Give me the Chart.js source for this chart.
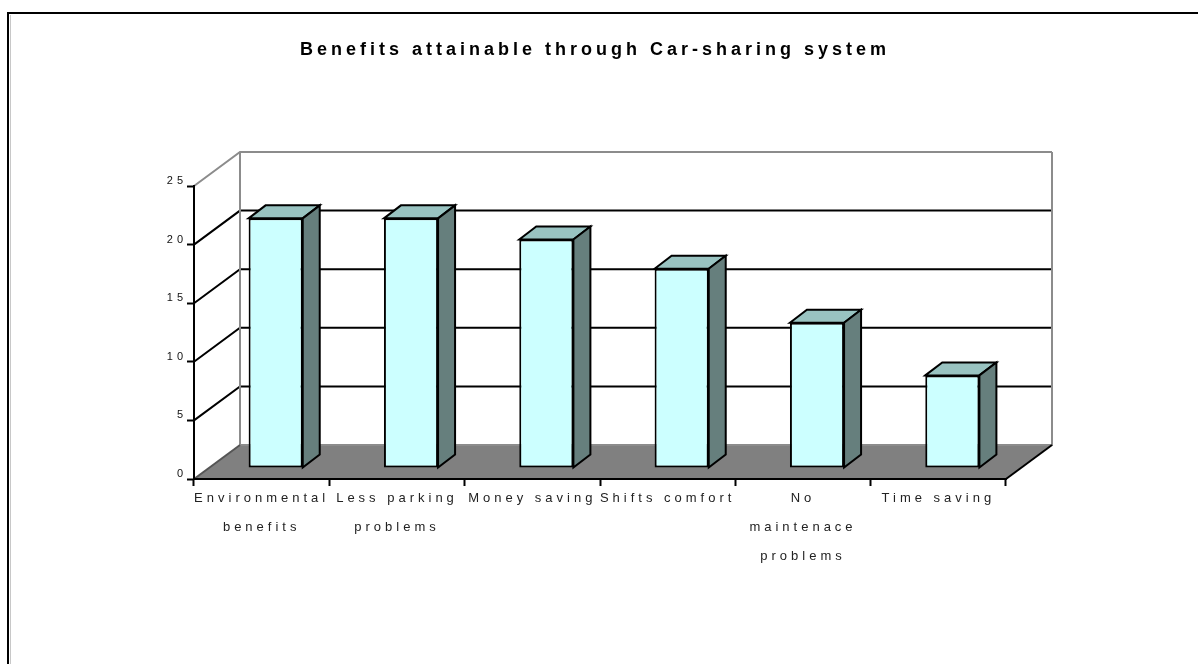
<!DOCTYPE html>
<html>
<head>
<meta charset="utf-8">
<title>Benefits attainable through Car-sharing system</title>
<script src="https://cdn.jsdelivr.net/npm/chart.js@4/dist/chart.umd.min.js"></script>
<style>
    html, body { margin: 0; padding: 0; background: #ffffff; }
    #area { position: relative; width: 1198px; height: 664px; }
</style>
</head>
<body>
<div id="area"><canvas id="graficoBeneficios" width="1198" height="664"></canvas></div>
<script>
// Dados do gráfico
var categorias = [
    ['Environmental', 'benefits'],
    ['Less parking', 'problems'],
    ['Money saving'],
    ['Shifts comfort'],
    ['No', 'maintenace', 'problems'],
    ['Time saving']
];
var valores = [21.3, 21.3, 19.5, 17.0, 12.4, 7.9];
var ticksY = [0, 5, 10, 15, 20, 25];

// Deslocamentos da perspectiva (parede do fundo, face frontal e profundidade das barras)
var parede = { dx: 46, dy: -34 };
var frenteBarra = { dx: 14, dy: -11 };
var fundoBarra = { dx: 17, dy: -13 };

var fonte = "Arial, 'Liberation Sans', sans-serif";

var efeito3d = {
    id: 'efeito3d',
    beforeDraw: function(chart) {
        var ctx = chart.ctx;
        var area = chart.chartArea;
        var escalaY = chart.scales.y;
        var L = area.left, R = area.right;
        var y0 = escalaY.getPixelForValue(0);
        var yTopo = escalaY.getPixelForValue(ticksY[ticksY.length - 1]);

        ctx.save();
        // moldura externa
        ctx.strokeStyle = '#000';
        ctx.lineWidth = 2;
        ctx.beginPath();
        ctx.moveTo(8, 700);
        ctx.lineTo(8, 13);
        ctx.lineTo(1250, 13);
        ctx.stroke();
        ctx.strokeStyle = '#c8c8c8';
        ctx.lineWidth = 1;
        ctx.beginPath();
        ctx.moveTo(10.5, 15);
        ctx.lineTo(10.5, 700);
        ctx.stroke();

        // piso cinza
        ctx.fillStyle = '#808080';
        ctx.beginPath();
        ctx.moveTo(L, y0);
        ctx.lineTo(R, y0);
        ctx.lineTo(R + parede.dx, y0 + parede.dy);
        ctx.lineTo(L + parede.dx, y0 + parede.dy);
        ctx.closePath();
        ctx.fill();

        // linhas de grade na parede lateral e no fundo
        ctx.lineWidth = 2;
        ticksY.forEach(function(v) {
            if (v === 0) return;
            var py = escalaY.getPixelForValue(v);
            ctx.strokeStyle = (py === yTopo) ? '#8c8c8c' : '#000';
            ctx.beginPath();
            ctx.moveTo(L, py);
            ctx.lineTo(L + parede.dx, py + parede.dy);
            ctx.lineTo(R + parede.dx, py + parede.dy);
            ctx.stroke();
        });

        // bordas da parede do fundo
        ctx.strokeStyle = '#8c8c8c';
        ctx.beginPath();
        ctx.moveTo(L + parede.dx, yTopo + parede.dy);
        ctx.lineTo(L + parede.dx, y0 + parede.dy);
        ctx.lineTo(R + parede.dx, y0 + parede.dy);
        ctx.lineTo(R + parede.dx, yTopo + parede.dy);
        ctx.stroke();
        ctx.strokeStyle = '#555';
        ctx.beginPath();
        ctx.moveTo(L, y0);
        ctx.lineTo(L + parede.dx, y0 + parede.dy);
        ctx.stroke();
        ctx.strokeStyle = '#000';
        ctx.beginPath();
        ctx.moveTo(R, y0);
        ctx.lineTo(R + parede.dx, y0 + parede.dy);
        ctx.stroke();
        ctx.restore();

        // textos espaçados
        ctx.letterSpacing = '4px';
    },
    beforeDatasetsDraw: function(chart) {
        chart.ctx.save();
        chart.ctx.translate(frenteBarra.dx, frenteBarra.dy);
    },
    afterDatasetsDraw: function(chart) {
        var ctx = chart.ctx;
        var meta = chart.getDatasetMeta(0);
        ctx.lineWidth = 2;
        ctx.lineJoin = 'miter';
        ctx.strokeStyle = '#000';
        meta.data.forEach(function(barra) {
            var p = barra.getProps(['x', 'y', 'base', 'width'], true);
            var esq = p.x - p.width / 2, dir = p.x + p.width / 2;
            // face de cima
            ctx.fillStyle = '#99c3c1';
            ctx.beginPath();
            ctx.moveTo(esq, p.y);
            ctx.lineTo(esq + fundoBarra.dx, p.y + fundoBarra.dy);
            ctx.lineTo(dir + fundoBarra.dx, p.y + fundoBarra.dy);
            ctx.lineTo(dir, p.y);
            ctx.closePath();
            ctx.fill();
            ctx.stroke();
            // face lateral
            ctx.fillStyle = '#667f7d';
            ctx.beginPath();
            ctx.moveTo(dir, p.y);
            ctx.lineTo(dir + fundoBarra.dx, p.y + fundoBarra.dy);
            ctx.lineTo(dir + fundoBarra.dx, p.base + fundoBarra.dy);
            ctx.lineTo(dir, p.base);
            ctx.closePath();
            ctx.fill();
            ctx.stroke();
        });
        ctx.restore();
    },
    afterDraw: function(chart) {
        chart.ctx.letterSpacing = '0px';
    }
};

document.addEventListener('DOMContentLoaded', function() {
    var config = {
        type: 'bar',
        data: {
            labels: categorias,
            datasets: [{
                data: valores,
                backgroundColor: '#ccffff',
                borderColor: '#000',
                borderWidth: 2,
                borderSkipped: false,
                barPercentage: 0.4,
                categoryPercentage: 1.0,
                clip: false
            }]
        },
        options: {
            responsive: false,
            animation: false,
            layout: { padding: { left: 0, right: 8, top: 0, bottom: 0 } },
            plugins: {
                legend: { display: false },
                tooltip: { enabled: false },
                title: {
                    display: true,
                    text: 'Benefits attainable through Car-sharing system',
                    color: '#000',
                    font: { family: fonte, size: 18, weight: 'bold' },
                    padding: { top: 39.5, bottom: 124.9 }
                }
            },
            scales: {
                x: {
                    offset: true,
                    grid: {
                        offset: true,
                        drawOnChartArea: false,
                        drawTicks: true,
                        tickLength: 7,
                        tickWidth: 2,
                        color: '#000'
                    },
                    border: { display: true, color: '#000', width: 2 },
                    ticks: {
                        autoSkip: false,
                        maxRotation: 0,
                        padding: -2,
                        color: '#222',
                        font: { family: fonte, size: 13, lineHeight: '29px' }
                    },
                    afterFit: function(escala) { escala.height = 185; }
                },
                y: {
                    min: 0,
                    max: 25,
                    grid: {
                        drawOnChartArea: false,
                        drawTicks: true,
                        tickLength: 7,
                        tickWidth: 2,
                        color: '#000'
                    },
                    border: { display: true, color: '#000', width: 2 },
                    ticks: {
                        stepSize: 5,
                        padding: 0,
                        labelOffset: -5,
                        color: '#111',
                        font: { family: fonte, size: 11 }
                    },
                    afterFit: function(escala) { escala.width = 194; }
                },
                // margem à direita, sem marcas
                margemDireita: {
                    type: 'linear',
                    position: 'right',
                    grid: { display: false },
                    border: { display: false },
                    ticks: { display: false },
                    afterFit: function(escala) { escala.width = 184; }
                }
            }
        },
        plugins: [efeito3d]
    };

    var ctx = document.getElementById('graficoBeneficios').getContext('2d');
    new Chart(ctx, config);
});
</script>
</body>
</html>
